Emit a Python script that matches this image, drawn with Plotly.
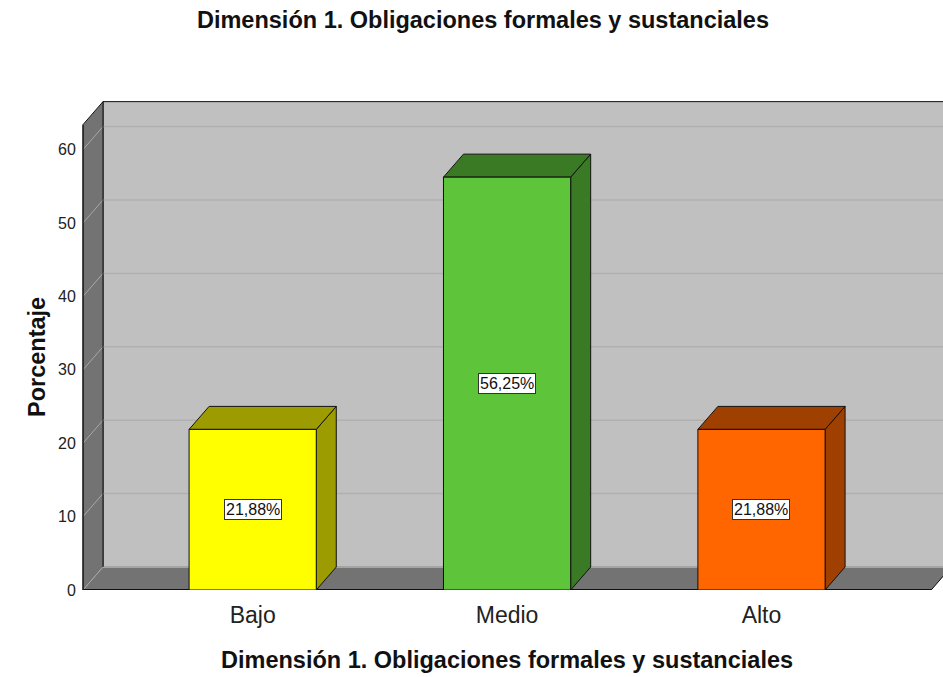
import plotly.graph_objects as go

categories = ["Bajo", "Medio", "Alto"]
percentages = [21.88, 56.25, 21.88]
bar_labels = ["21,88%", "56,25%", "21,88%"]
y_ticks = [0, 10, 20, 30, 40, 50, 60]

front_colors = ["#ffff00", "#5ec43a", "#ff6600"]
side_colors = ["#9c9c00", "#3a7a24", "#a04000"]

title_text = "Dimensión 1. Obligaciones formales y sustanciales"
y_title = "Porcentaje"

# page / pseudo-3d geometry (pixels -> data units)
W, H = 943, 677
ml, mr, mt, mb = 81, 0, 100, 87
plot_w = W - ml - mr
plot_h = H - mt - mb
x_unit = 254.4
y_unit = 7.34
wall_left = -0.667
floor_right = 2.667
wall_top = 63.4
x_lo = wall_left - 2 / x_unit
x_hi = x_lo + plot_w / x_unit
y_hi = plot_h / y_unit
dx = 20 / x_unit
dy = 23 / y_unit
bar_w = 0.5
font = "Liberation Sans, Arial, sans-serif"

positions = list(range(len(categories)))


def poly(points):
    return "M " + " L ".join(f"{px},{py}" for px, py in points) + " Z"


def line(x0, y0, x1, y1, color, width=1):
    return dict(type="line", layer="below", x0=x0, y0=y0, x1=x1, y1=y1, line=dict(color=color, width=width))


shapes = []
# back wall
shapes.append(dict(type="rect", layer="below", x0=wall_left + dx, y0=dy, x1=x_hi + 0.2, y1=wall_top + dy,
                   fillcolor="#c0c0c0", line=dict(color="#111111", width=1)))
for v in y_ticks[1:]:
    shapes.append(line(wall_left + dx, v + dy, x_hi + 0.2, v + dy, "#b0b0b0", 1.5))
# left wall
shapes.append(dict(type="path", layer="below", path=poly([(wall_left, 0), (wall_left, wall_top), (wall_left + dx, wall_top + dy), (wall_left + dx, dy)]),
                   fillcolor="#737373", line=dict(width=0)))
# floor
shapes.append(dict(type="path", layer="below", path=poly([(wall_left, 0), (floor_right, 0), (floor_right + dx, dy), (wall_left + dx, dy)]),
                   fillcolor="#737373", line=dict(width=0)))
shapes.append(line(wall_left + dx, dy, x_hi + 0.2, dy, "#a4a4a4", 2))
for v in y_ticks:
    shapes.append(line(wall_left, v, wall_left + dx, v + dy, "#a8a8a8", 1))
# wall / floor outlines
shapes.append(line(wall_left, 0, wall_left, wall_top, "#111111", 1.5))
shapes.append(line(wall_left, wall_top, wall_left + dx, wall_top + dy, "#111111", 1))
shapes.append(line(wall_left + dx, dy, wall_left + dx, wall_top + dy, "#111111", 1))
shapes.append(line(wall_left, 0, floor_right, 0, "#111111", 2))
shapes.append(line(floor_right, 0, floor_right + dx, dy, "#111111", 1))

# bar side and top faces
for i, v in enumerate(percentages):
    xl = positions[i] - bar_w / 2
    xr = positions[i] + bar_w / 2
    shapes.append(dict(type="path", layer="below", path=poly([(xr, 0), (xr, v), (xr + dx, v + dy), (xr + dx, dy)]),
                       fillcolor=side_colors[i], line=dict(color="#111111", width=1)))
    shapes.append(dict(type="path", layer="below", path=poly([(xl, v), (xr, v), (xr + dx, v + dy), (xl + dx, v + dy)]),
                       fillcolor=side_colors[i], line=dict(color="#111111", width=1)))

fig = go.Figure()
fig.add_trace(go.Bar(x=positions, y=percentages, width=bar_w, marker=dict(color=front_colors, line=dict(color="#111111", width=1)),
                     hoverinfo="skip", showlegend=False))

annotations = []
for i, v in enumerate(percentages):
    annotations.append(dict(x=positions[i], y=v / 2, text=bar_labels[i], showarrow=False, bgcolor="#ffffff",
                            bordercolor="#333333", borderwidth=1, borderpad=1, font=dict(size=16, color="#111111", family=font)))
# y title centred at page x=22, y=357
annotations.append(dict(xref="paper", yref="paper", x=(22 - ml) / plot_w, y=(H - mb - 357) / plot_h, text=f"<b>{y_title}</b>",
                        textangle=-90, showarrow=False, font=dict(size=23.5, color="#111111", family=font)))
# x title centred under the middle category at page y=660
annotations.append(dict(xref="x", yref="paper", x=positions[1], y=-(660 - (H - mb)) / plot_h, yanchor="middle", text=f"<b>{title_text}</b>",
                        showarrow=False, font=dict(size=23.5, color="#111111", family=font)))

fig.update_layout(
    width=W, height=H,
    margin=dict(l=ml, r=mr, t=mt, b=mb),
    paper_bgcolor="#ffffff", plot_bgcolor="#ffffff",
    title=dict(text=f"<b>{title_text}</b>", x=483 / W, xanchor="center", y=1 - 20 / H, yanchor="middle",
               font=dict(size=23.5, color="#111111", family=font)),
    shapes=shapes, annotations=annotations,
    font=dict(family=font, color="#111111"),
    hovermode=False,
)
fig.update_xaxes(range=[x_lo, x_hi], tickvals=positions, ticktext=categories, showgrid=False, zeroline=False, showline=False,
                 ticks="outside", ticklen=4, tickcolor="rgba(0,0,0,0)", tickfont=dict(size=23, color="#222222"))
fig.update_yaxes(range=[0, y_hi], tickvals=y_ticks, showgrid=False, zeroline=False, showline=False,
                 ticks="outside", ticklen=1, tickcolor="rgba(0,0,0,0)", tickfont=dict(size=16, color="#222222"))

# drop the default 8px body margin so the figure fills the window exactly
fig.write_html("out.html", config={"displayModeBar": False}, post_script="document.body.style.margin='0';")
